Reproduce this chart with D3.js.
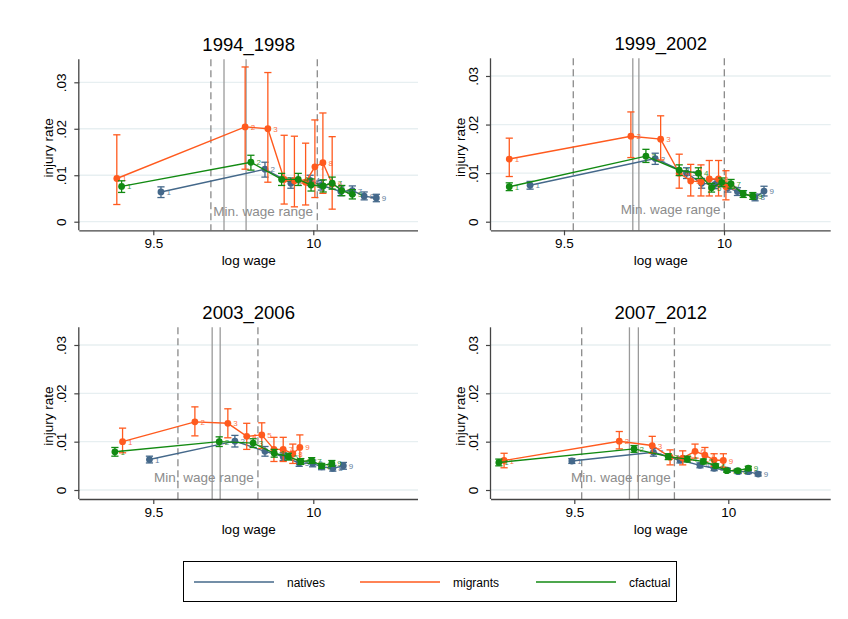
<!doctype html>
<html lang="en">
<head>
  <meta charset="utf-8">
  <script src="https://d3js.org/d3.v7.min.js"></script>
  <style>
    body { margin: 0; background: #fff; }
    text { font-family: "Liberation Sans", Arial, Helvetica, sans-serif; }
  </style>
</head>
<body>
<script>
  // ---- data: [log wage, injury rate, ci low, ci high] for deciles 1..9 ----
  var periods = ["1994_1998", "1999_2002", "2003_2006", "2007_2012"];
  var seriesNames = ["natives", "migrants", "cfactual"];
  var xTicks = [9.5, 10];
  var xTickLabels = ["9.5", "10"];
  var yTicks = [0, 0.01, 0.02, 0.03];
  var yTickLabels = ["0", ".01", ".02", ".03"];

  var natives1 = [[9.524,.0064,.0052,.0075],[9.849,.0113,.0096,.0128],[9.930,.0083,.0072,.0094],[9.990,.0089,.0078,.0100],[10.025,.0078,.0068,.0089],[10.086,.0065,.0056,.0075],[10.122,.0067,.0058,.0077],[10.159,.0055,.0047,.0064],[10.197,.0051,.0043,.0059]];
  var migrants1 = [[9.386,.0093,.0037,.0187],[9.787,.0204,.0113,.0333],[9.858,.0200,.0085,.0321],[9.909,.0091,.0038,.0186],[9.941,.0088,.0032,.0184],[9.976,.0085,.0036,.0169],[10.005,.0118,.0052,.0219],[10.030,.0127,.0061,.0234],[10.059,.0081,.0027,.0183]];
  var cfactual1 = [[9.401,.0076,.0063,.0088],[9.805,.0128,.0111,.0143],[9.901,.0091,.0078,.0104],[9.953,.0091,.0078,.0104],[9.993,.0079,.0066,.0092],[10.031,.0077,.0064,.0090],[10.059,.0083,.0070,.0096],[10.089,.0067,.0056,.0078],[10.122,.0059,.0049,.0069]];

  var natives2 = [[9.394,.0075,.0067,.0083],[9.785,.0130,.0118,.0141],[9.883,.0100,.0089,.0111],[9.930,.0079,.0069,.0089],[9.972,.0077,.0068,.0087],[10.012,.0070,.0061,.0079],[10.042,.0062,.0054,.0070],[10.097,.0050,.0043,.0057],[10.125,.0063,.0053,.0073]];
  var migrants2 = [[9.329,.0129,.0093,.0172],[9.709,.0176,.0132,.0226],[9.802,.0170,.0127,.0218],[9.860,.0100,.0069,.0139],[9.896,.0084,.0053,.0118],[9.928,.0082,.0053,.0117],[9.954,.0088,.0053,.0126],[9.983,.0088,.0053,.0126],[10.006,.0072,.0045,.0105]];
  var cfactual2 = [[9.329,.0072,.0064,.0080],[9.756,.0135,.0122,.0149],[9.860,.0106,.0095,.0117],[9.920,.0100,.0089,.0111],[9.961,.0070,.0061,.0079],[9.993,.0081,.0072,.0090],[10.022,.0078,.0069,.0087],[10.060,.0057,.0050,.0064],[10.090,.0053,.0046,.0060]];

  var natives3 = [[9.488,.0063,.0056,.0070],[9.755,.0101,.0089,.0113],[9.849,.0080,.0070,.0090],[9.906,.0069,.0061,.0077],[9.956,.0056,.0049,.0063],[9.998,.0055,.0048,.0062],[10.026,.0048,.0042,.0054],[10.061,.0045,.0039,.0051],[10.094,.0050,.0043,.0057]];
  var migrants3 = [[9.404,.0100,.0077,.0128],[9.630,.0141,.0112,.0172],[9.733,.0138,.0108,.0168],[9.792,.0111,.0084,.0138],[9.839,.0114,.0086,.0139],[9.877,.0084,.0059,.0109],[9.906,.0084,.0059,.0109],[9.936,.0075,.0055,.0095],[9.958,.0088,.0062,.0114]];
  var cfactual3 = [[9.380,.0079,.0070,.0088],[9.706,.0100,.0090,.0110],[9.812,.0097,.0088,.0106],[9.878,.0076,.0068,.0084],[9.922,.0069,.0062,.0076],[9.961,.0059,.0053,.0065],[9.995,.0061,.0055,.0067],[10.026,.0050,.0045,.0055],[10.058,.0055,.0049,.0061]];

  var natives4 = [[9.492,.0060,.0055,.0065],[9.757,.0078,.0070,.0086],[9.843,.0062,.0056,.0068],[9.908,.0051,.0046,.0056],[9.954,.0045,.0040,.0050],[9.997,.0041,.0037,.0045],[10.032,.0038,.0034,.0042],[10.065,.0038,.0034,.0042],[10.097,.0033,.0029,.0037]];
  var migrants4 = [[9.272,.0061,.0046,.0076],[9.646,.0101,.0085,.0121],[9.753,.0092,.0076,.0111],[9.811,.0068,.0052,.0083],[9.852,.0066,.0052,.0081],[9.892,.0080,.0066,.0095],[9.924,.0072,.0058,.0088],[9.954,.0062,.0049,.0075],[9.984,.0061,.0047,.0075]];
  var cfactual4 = [[9.255,.0057,.0050,.0064],[9.694,.0085,.0078,.0092],[9.805,.0069,.0063,.0075],[9.867,.0064,.0058,.0070],[9.919,.0059,.0054,.0064],[9.959,.0050,.0046,.0054],[9.995,.0040,.0037,.0043],[10.031,.0040,.0037,.0043],[10.065,.0045,.0041,.0049]];

  // minimum wage range: [dashed low, solid, solid, dashed high]
  var wageLines = [[9.680, 9.721, 9.790, 10.0125], [9.529, 9.715, 9.734, 10.001], [9.577, 9.684, 9.709, 9.827], [9.524, 9.679, 9.708, 9.825]];
  var rangeLabelPos = [[9.843, .0021], [9.833, .0024], [9.658, .0024], [9.651, .0024]];

  var panelData = [[natives1, migrants1, cfactual1], [natives2, migrants2, cfactual2], [natives3, migrants3, cfactual3], [natives4, migrants4, cfactual4]];

  // ---- layout ----
  var colors = ["#44688a", "#ff5a1e", "#128a12"];
  var panels = [
    { left: 79.3, right: 418,   top: 59.3,  bottom: 230.3, xd: [9.2688, 10.3272], yd: [-0.00185, 0.03495] },
    { left: 491,  right: 830.7, top: 58.3,  bottom: 230.3, xd: [9.2719, 10.3334], yd: [-0.00177, 0.03364] },
    { left: 79.3, right: 418,   top: 327.3, bottom: 499,   xd: [9.2688, 10.3272], yd: [-0.00186, 0.03366] },
    { left: 491,  right: 830.7, top: 327.3, bottom: 499,   xd: [9.2295, 10.3325], yd: [-0.00186, 0.03366] }
  ];

  var svg = d3.select("body").append("svg")
      .attr("width", 848)
      .attr("height", 619);

  panels.forEach(function(p, pi) {
    var x = d3.scaleLinear().domain(p.xd).range([p.left, p.right]);
    var y = d3.scaleLinear().domain(p.yd).range([p.bottom, p.top]);
    var g = svg.append("g");

    // grid lines
    g.selectAll("line.grid").data(yTicks).enter().append("line")
        .attr("x1", p.left).attr("x2", p.right)
        .attr("y1", function(d) { return y(d); }).attr("y2", function(d) { return y(d); })
        .style("stroke", "#e7eff1").style("stroke-width", 1.3);

    // min wage lines
    var wl = wageLines[pi];
    g.selectAll("line.wl").data(wl).enter().append("line")
        .attr("x1", function(d) { return x(d); }).attr("x2", function(d) { return x(d); })
        .attr("y1", p.top).attr("y2", p.bottom)
        .style("stroke", function(d, i) { return (i == 0 || i == 3) ? "#8a8a8a" : "#9a9a9a"; })
        .style("stroke-width", 1.3)
        .style("stroke-dasharray", function(d, i) { return (i == 0 || i == 3) ? "7,4" : null; });

    g.append("text")
        .attr("x", x(rangeLabelPos[pi][0]))
        .attr("y", y(rangeLabelPos[pi][1]))
        .attr("text-anchor", "middle")
        .attr("dominant-baseline", "middle")
        .style("font-size", "13.5px")
        .style("fill", "#8c8c8c")
        .text("Min. wage range");

    // series
    panelData[pi].forEach(function(data, si) {
      var col = colors[si];
      var line = d3.line().x(function(d) { return x(d[0]); }).y(function(d) { return y(d[1]); });
      g.append("path").datum(data)
          .attr("d", line)
          .style("fill", "none").style("stroke", col).style("stroke-width", 1.4);

      // error bars with caps
      var eb = g.append("g").style("stroke", col).style("stroke-width", 1.3);
      eb.selectAll("line.v").data(data).enter().append("line")
          .attr("x1", function(d) { return x(d[0]); }).attr("x2", function(d) { return x(d[0]); })
          .attr("y1", function(d) { return y(d[2]); }).attr("y2", function(d) { return y(d[3]); });
      eb.selectAll("line.lo").data(data).enter().append("line")
          .attr("x1", function(d) { return x(d[0]) - 3.6; }).attr("x2", function(d) { return x(d[0]) + 3.6; })
          .attr("y1", function(d) { return y(d[2]); }).attr("y2", function(d) { return y(d[2]); });
      eb.selectAll("line.hi").data(data).enter().append("line")
          .attr("x1", function(d) { return x(d[0]) - 3.6; }).attr("x2", function(d) { return x(d[0]) + 3.6; })
          .attr("y1", function(d) { return y(d[3]); }).attr("y2", function(d) { return y(d[3]); });

      g.selectAll("circle.s" + si).data(data).enter().append("circle")
          .attr("cx", function(d) { return x(d[0]); })
          .attr("cy", function(d) { return y(d[1]); })
          .attr("r", 3.4)
          .style("fill", col);

      g.selectAll("text.s" + si).data(data).enter().append("text")
          .attr("x", function(d) { return x(d[0]) + 5.5; })
          .attr("y", function(d) { return y(d[1]) + 3; })
          .style("font-size", "8px")
          .style("fill", col)
          .style("opacity", 0.85)
          .text(function(d, i) { return i + 1; });
    });

    // axes
    var xAxis = d3.axisBottom(x).tickValues(xTicks).tickSize(5).tickPadding(3)
        .tickFormat(function(d, i) { return xTickLabels[i]; });
    var gx = svg.append("g").attr("transform", "translate(0," + p.bottom + ")").call(xAxis);
    gx.select(".domain").attr("d", "M" + p.left + ",0.5H" + p.right).style("stroke", "#444").style("stroke-width", 1.3);
    gx.selectAll(".tick line").style("stroke", "#444").style("stroke-width", 1.2);
    gx.selectAll(".tick text").style("font-size", "13.5px").style("fill", "#000")
        .style("font-family", "'Liberation Sans', Arial, sans-serif");

    var yAxis = d3.axisLeft(y).tickValues(yTicks).tickSize(5).tickPadding(3)
        .tickFormat(function(d, i) { return yTickLabels[i]; });
    var gy = svg.append("g").attr("transform", "translate(" + p.left + ",0)").call(yAxis);
    gy.select(".domain").attr("d", "M-0.5," + p.top + "V" + p.bottom).style("stroke", "#444").style("stroke-width", 1.3);
    gy.selectAll(".tick line").style("stroke", "#444").style("stroke-width", 1.2);
    gy.selectAll(".tick text")
        .attr("x", null).attr("dy", null)
        .attr("text-anchor", "middle")
        .attr("transform", "translate(-13,0) rotate(-90)")
        .style("font-size", "13.5px").style("fill", "#000")
        .style("font-family", "'Liberation Sans', Arial, sans-serif");

    // titles
    svg.append("text")
        .attr("x", (p.left + p.right) / 2)
        .attr("y", p.top - 8)
        .attr("text-anchor", "middle")
        .style("font-size", "18.5px")
        .text(periods[pi]);
    svg.append("text")
        .attr("x", (p.left + p.right) / 2)
        .attr("y", p.bottom + 35)
        .attr("text-anchor", "middle")
        .style("font-size", "13.5px")
        .text("log wage");
    svg.append("text")
        .attr("transform", "translate(" + (p.left - 26) + "," + ((p.top + p.bottom) / 2 + 3) + ") rotate(-90)")
        .attr("text-anchor", "middle")
        .style("font-size", "13.5px")
        .text("injury rate");
  });

  // legend
  var lg = svg.append("g");
  lg.append("rect")
      .attr("x", 183.5).attr("y", 561.5).attr("width", 493).attr("height", 40)
      .style("fill", "#fff").style("stroke", "#000").style("stroke-width", 1);
  var legX = [194, 360, 536];
  seriesNames.forEach(function(name, i) {
    lg.append("line")
        .attr("x1", legX[i]).attr("x2", legX[i] + 80)
        .attr("y1", 582).attr("y2", 582)
        .style("stroke", colors[i]).style("stroke-width", 1.4);
    lg.append("text")
        .attr("x", legX[i] + 93).attr("y", 586.5)
        .style("font-size", "12px")
        .text(name);
  });
</script>
</body>
</html>
